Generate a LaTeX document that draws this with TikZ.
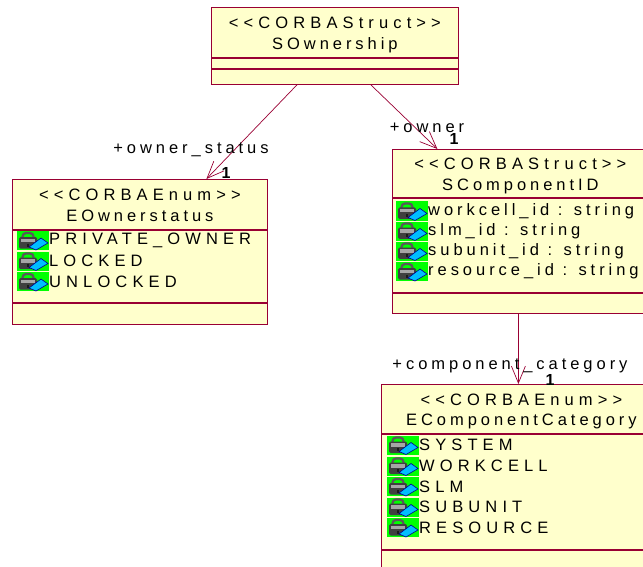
\documentclass[tikz,border=0pt]{standalone}
\usepackage{fontspec}
\usepackage{tikz}
\usetikzlibrary{arrows.meta}
\newfontfamily\umlfont[LetterSpace=24]{Liberation Sans}
\newfontfamily\umlcaps[LetterSpace=31]{Liberation Sans}
\definecolor{umlred}{RGB}{153,0,51}
\definecolor{umlfill}{RGB}{255,255,204}
\definecolor{iconbg}{RGB}{0,255,0}
\definecolor{iconblue}{RGB}{0,190,255}
\tikzset{
  classbox/.style = {draw = umlred, fill = umlfill, line width = 0.8pt, inner sep = 0pt, anchor = north west},
  umltext/.style = {font = \umlfont\fontsize{16.5}{20.5}\selectfont, inner sep = 0pt},
  classname/.style = {classbox, umltext, align = center, text height = 37pt, text depth = 3pt},
  attr/.style = {umltext, anchor = west},
  literal/.style = {attr, font = \umlcaps\fontsize{16.5}{20.5}\selectfont},
  mult/.style = {font = \umlfont\bfseries\fontsize{16}{20}\selectfont, inner sep = 0pt},
  assoc/.style = {umlred, line width = 0.7pt, -{Straight Barb[length = 17pt, width = 14pt]}},
  lockicon/.pic = {
    \fill[iconbg] (0,-9.5) rectangle (32,9.5);
    \draw[black!65, line width = 2.2pt, rounded corners = 3.5pt] (5.5,-1) -- (5.5,-7.5) -- (16.5,-7.5) -- (16.5,-1);
    \fill[black!75, rounded corners = 1.5pt] (2,-3.5) rectangle (20,8);
    \fill[black!35] (4,-2) rectangle (18,1.5);
    \fill[black!90] (10,3) rectangle (12,6);
    \filldraw[fill = iconblue, draw = blue!55!black, line width = 0.6pt] (12,6.5) -- (24,-2.5) -- (31,2.5) -- (19,9.5) -- cycle;
  }
}
\begin{document}
\begin{tikzpicture}[x = 1pt, y = -1pt]
\useasboundingbox (0,0) rectangle (643,567);
\clip (0,0) rectangle (643,567);
% SOwnership
\node[classname, minimum width = 247, minimum height = 50] (own) at (211,7) {{\umlcaps <{}<CORBAStruct>{}>}\\SOwnership};
\node[classbox, minimum width = 247, minimum height = 10] (own-attr) at (own.south west) {};
\node[classbox, minimum width = 247, minimum height = 15] (own-op) at (own-attr.south west) {};
% EOwnerstatus
\node[classname, minimum width = 255, minimum height = 50] (eown) at (12,179) {{\umlcaps <{}<CORBAEnum>{}>}\\EOwnerstatus};
\node[classbox, minimum width = 255, minimum height = 72] (eown-attr) at (eown.south west) {};
\node[classbox, minimum width = 255, minimum height = 21] (eown-op) at (eown-attr.south west) {};
\pic at (17,240.5) {lockicon};
\pic at (17,261) {lockicon};
\pic at (17,281.5) {lockicon};
\node[literal] (eown-a1) at (49,240.5) {PRIVATE\_OWNER};
\node[literal] (eown-a2) at (49,261) {LOCKED};
\node[literal] (eown-a3) at (49,281.5) {UNLOCKED};
% SComponentID
\node[classname, minimum width = 256, minimum height = 48] (scid) at (392,149) {{\umlcaps <{}<CORBAStruct>{}>}\\SComponentID};
\node[classbox, minimum width = 256, minimum height = 94] (scid-attr) at (scid.south west) {};
\node[classbox, minimum width = 256, minimum height = 20] (scid-op) at (scid-attr.south west) {};
\pic at (396,211) {lockicon};
\pic at (396,231) {lockicon};
\pic at (396,251) {lockicon};
\pic at (396,271.5) {lockicon};
\node[attr] (scid-a1) at (428,211) {workcell\_id : string};
\node[attr] (scid-a2) at (428,231) {slm\_id : string};
\node[attr] (scid-a3) at (428,251) {subunit\_id : string};
\node[attr] (scid-a4) at (428,271.5) {resource\_id : string};
% EComponentCategory
\node[classname, minimum width = 280, minimum height = 49] (ecat) at (381,384) {{\umlcaps <{}<CORBAEnum>{}>}\\EComponentCategory};
\node[classbox, minimum width = 280, minimum height = 115] (ecat-attr) at (ecat.south west) {};
\node[classbox, minimum width = 280, minimum height = 40] (ecat-op) at (ecat-attr.south west) {};
\pic at (387,445) {lockicon};
\pic at (387,466) {lockicon};
\pic at (387,486.5) {lockicon};
\pic at (387,507) {lockicon};
\pic at (387,527.5) {lockicon};
\node[literal] (ecat-a1) at (419,445) {SYSTEM};
\node[literal] (ecat-a2) at (419,466) {WORKCELL};
\node[literal] (ecat-a3) at (419,486.5) {SLM};
\node[literal] (ecat-a4) at (419,507) {SUBUNIT};
\node[literal] (ecat-a5) at (419,527.5) {RESOURCE};
% associations
\draw[assoc] ([xshift = -37.5]own-op.south) -- ([xshift = 66.5]eown.north);
\draw[assoc] ([xshift = 35.5]own-op.south) -- ([xshift = -83]scid.north);
\draw[assoc] ([xshift = -2]scid-op.south) -- ([xshift = -3]ecat.north);
\node[umltext] (eown-role) at (191,150) {+owner\_status};
\node[mult] (eown-mult) at (226,173) {1};
\node[umltext] (scid-role) at (427,128) {+owner};
\node[mult] (scid-mult) at (454,139) {1};
\node[umltext] (ecat-role) at (510,366) {+component\_category};
\node[mult] (ecat-mult) at (550,380) {1};
\end{tikzpicture}
\end{document}
